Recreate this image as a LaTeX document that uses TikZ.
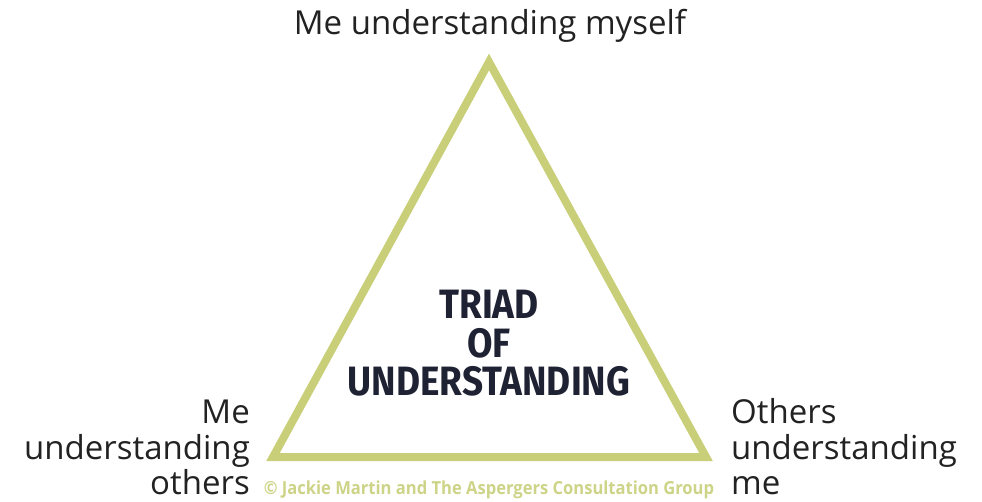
\documentclass[tikz,border=0pt]{standalone}
\usepackage{fontspec}
\setmainfont{Open Sans}
\newfontfamily\triadfont{Fira Sans}
\definecolor{triline}{HTML}{C8CF78}
\definecolor{credcol}{HTML}{CDD387}
\definecolor{trinavy}{HTML}{1F2233}
\definecolor{labelgrey}{HTML}{222222}
\newcommand{\tristrut}{\rule[-9.5pt]{0pt}{38.5pt}}
\begin{document}
\begin{tikzpicture}[x=1pt,y=-1pt,
  label/.style={text=labelgrey,font=\fontsize{33}{37}\selectfont,inner sep=0pt},
  title/.style={text=trinavy,font=\triadfont\bfseries\fontsize{41}{20}\selectfont,inner sep=0pt},
  credit/.style={text=credcol,font=\bfseries\fontsize{18}{18}\selectfont,inner sep=0pt}]
\useasboundingbox (0,0) rectangle (982,502);
\coordinate (apex) at (489,62);
\coordinate (bl) at (273,457);
\coordinate (br) at (706,457);
\draw[triline,line width=8pt,line join=miter] (apex) -- (bl) -- (br) -- cycle;
\node[label,anchor=base] (top) at (490,35) {Me understanding myself};
\node[label,anchor=base east] (lme) at (250,423) {Me};
\node[label,anchor=base east] (lund) at (250,459) {understanding};
\node[label,anchor=base east] (loth) at (250,494) {others};
\node[label,anchor=base west] (roth) at (731,423) {Others};
\node[label,anchor=base west] (rund) at (731,459) {understanding};
\node[label,anchor=base west] (rme) at (731,494) {me};
\node[title,anchor=center] (title) at (489,347.25)
  {\scalebox{0.9}[1]{\begin{tabular}{@{}c@{}}\tristrut TRIAD\\\tristrut OF\\\tristrut UNDERSTANDING\end{tabular}}};
\node[credit,anchor=base] (cr) at (489,494) {\scalebox{0.92}[1]{© Jackie Martin and The Aspergers Consultation Group}};
\end{tikzpicture}
\end{document}
